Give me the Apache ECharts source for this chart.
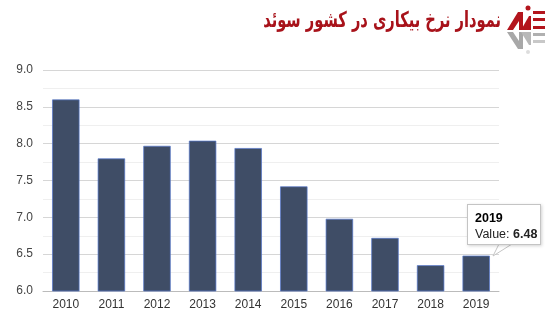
<!DOCTYPE html>
<html><head><meta charset="utf-8">
<script src="https://cdn.jsdelivr.net/npm/echarts@6/dist/echarts.min.js"></script>
<style>html,body{margin:0;padding:0;background:#fff}#c{width:550px;height:319px}</style>
</head><body><div id="c"></div>
<script>
const years = ['2010','2011','2012','2013','2014','2015','2016','2017','2018','2019'];
const rates = [8.6, 7.8, 7.97, 8.04, 7.94, 7.42, 6.98, 6.72, 6.35, 6.48];
const yTicks = ['6.0','6.5','7.0','7.5','8.0','8.5','9.0'];
const titleText = 'نمودار نرخ بیکاری در کشور سوئد';

const chart = echarts.init(document.getElementById('c'));
chart.setOption({
  animation: false,
  graphic: [
    {type: 'text', x: 501, y: 10, scaleX: 0.77, scaleY: 1.15,
      style: {text: titleText, align: 'right', verticalAlign: 'top',
        font: 'bold 19px "DejaVu Sans"', fill: '#a8121a'}},
    // logo (red part)
    {type: 'polygon', shape: {points: [[507,30],[518,12],[523,12],[523,30],[519,30],[519,21],[513,30]]}, style: {fill: '#b3151d'}},
    {type: 'polygon', shape: {points: [[521,30],[529,16],[531,16],[531,30]]}, style: {fill: '#b3151d'}},
    {type: 'circle', shape: {cx: 528, cy: 8, r: 2.5}, style: {fill: '#b3151d'}},
    {type: 'rect', shape: {x: 533, y: 11, width: 12, height: 3}, style: {fill: '#b3151d'}},
    {type: 'rect', shape: {x: 533, y: 18, width: 12, height: 3}, style: {fill: '#b3151d'}},
    {type: 'rect', shape: {x: 533, y: 26, width: 12, height: 3}, style: {fill: '#b3151d'}},
    // logo (gray reflection)
    {type: 'polygon', shape: {points: [[507,32],[518,49],[523,49],[523,32],[519,32],[519,41],[513,32]]}, style: {fill: '#a8a8a8'}},
    {type: 'polygon', shape: {points: [[521,32],[529,45],[531,45],[531,32]]}, style: {fill: '#b8b8b8'}},
    {type: 'rect', shape: {x: 533, y: 33, width: 12, height: 3}, style: {fill: '#b0b0b0'}},
    {type: 'rect', shape: {x: 533, y: 40, width: 12, height: 3}, style: {fill: '#c8c8c8'}},
    {type: 'circle', shape: {cx: 528, cy: 52, r: 2}, style: {fill: '#dddddd'}},
    // tooltip tail
    {type: 'polygon', z: 100, shape: {points: [[499,244],[493,256],[512,244]]},
      style: {fill: '#fff', stroke: '#c4c4c4', lineWidth: 1}},
    {type: 'line', z: 101, shape: {x1: 500, y1: 244, x2: 511, y2: 244}, style: {stroke: '#fff', lineWidth: 2}}
  ],
  tooltip: {
    trigger: 'item', alwaysShowContent: true, triggerOn: 'none',
    position: [467, 204],
    backgroundColor: '#fff', borderColor: '#c4c4c4', borderWidth: 1, padding: [5, 7],
    extraCssText: 'box-shadow:1px 1px 3px rgba(0,0,0,0.18);border-radius:0;width:58px;height:29px;',
    formatter: p => '<div style="font:bold 12.5px Liberation Sans;color:#000;line-height:16px">' + p.name +
      '</div><div style="font:12.5px Liberation Sans;color:#222;line-height:16px;white-space:nowrap">Value: <b>' + p.value.toFixed(2) + '</b></div>'
  },
  grid: {left: 43, right: 51, top: 70, bottom: 28},
  xAxis: {
    type: 'category', data: years,
    axisLine: {lineStyle: {color: '#bbb'}}, axisTick: {show: false},
    axisLabel: {color: '#333', fontFamily: 'Liberation Sans', fontSize: 12, margin: 8}
  },
  yAxis: {
    type: 'value', min: 6, max: 9, interval: 0.5,
    axisLabel: {color: '#444', fontFamily: 'Liberation Sans', fontSize: 12, margin: 10,
      formatter: v => yTicks[Math.round((v - 6) / 0.5)]},
    splitLine: {lineStyle: {color: '#d6d6d6'}},
    minorTick: {show: false, splitNumber: 2},
    minorSplitLine: {show: true, lineStyle: {color: '#efefef'}}
  },
  series: [{
    type: 'bar', data: rates, barWidth: '60%',
    itemStyle: {color: '#3f4d66', borderColor: '#5577cc', borderWidth: 0.7}
  }]
});
chart.dispatchAction({type: 'showTip', seriesIndex: 0, dataIndex: 9});
</script></body></html>
